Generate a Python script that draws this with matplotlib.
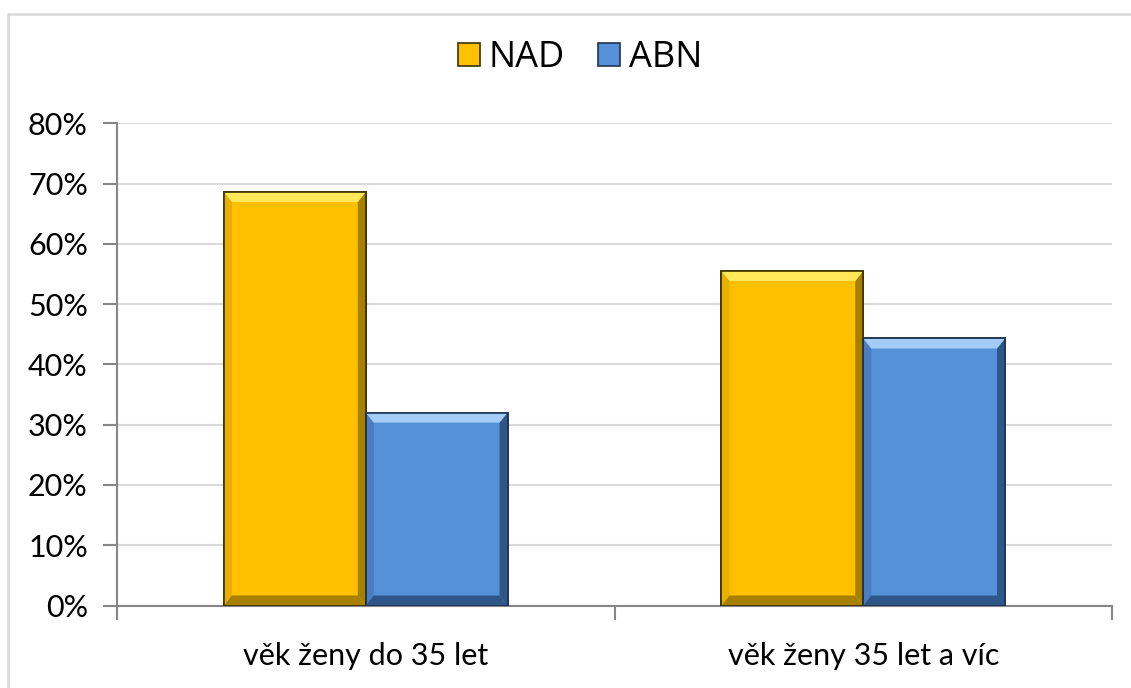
import matplotlib
matplotlib.use("Agg")
import matplotlib.pyplot as plt
import numpy as np
from matplotlib.patches import Polygon, Rectangle
from matplotlib.ticker import FuncFormatter, MultipleLocator

# data (percent)
categories = ["věk ženy do 35 let", "věk ženy 35 let a víc"]
series_names = ["NAD", "ABN"]
nad_values = [68.6, 55.5]
abn_values = [32.0, 44.3]

fills = ["#FFC000", "#5591D8"]
edges = ["#3B3200", "#1F3350"]
light = ["#FFE85A", "#A3CCF7"]
dark = ["#A88000", "#2E5689"]
side = ["#E8AE00", "#4A7EC0"]

W, H, DPI = 1131, 688, 100
fig = plt.figure(figsize=(W / DPI, H / DPI), dpi=DPI)
ax = fig.add_axes([117 / W, (H - 605.5) / H, 995 / W, (605.5 - 123.3) / H])

x = np.arange(len(categories))
width = 0.285
all_bars = []
for i, (vals, off) in enumerate([(nad_values, -width / 2), (abn_values, width / 2)]):
    bars = ax.bar(x + off, vals, width, color=fills[i], edgecolor=edges[i],
                  linewidth=1.2, zorder=3, label=series_names[i])
    all_bars.append((i, bars))

ax.set_xlim(-0.5, len(categories) - 0.5)
ax.set_ylim(0, 80)

# bevel effect drawn from each bar's own geometry
px_x = (len(categories)) / 995.0
px_y = 80 / (605.5 - 123.3)
bx, by = 8 * px_x, 10 * px_y
for i, bars in all_bars:
    for b in bars:
        x0, y0 = b.get_x(), b.get_y()
        x1, y1 = x0 + b.get_width(), y0 + b.get_height()
        top = [(x0, y1), (x1, y1), (x1 - bx, y1 - by), (x0 + bx, y1 - by)]
        left = [(x0, y0), (x0, y1), (x0 + bx, y1 - by), (x0 + bx, y0 + by)]
        right = [(x1, y0), (x1, y1), (x1 - bx, y1 - by), (x1 - bx, y0 + by)]
        bottom = [(x0, y0), (x1, y0), (x1 - bx, y0 + by), (x0 + bx, y0 + by)]
        for pts, c in [(left, side[i]), (right, dark[i]), (bottom, dark[i]), (top, light[i])]:
            ax.add_patch(Polygon(pts, closed=True, facecolor=c, edgecolor="none", zorder=4))
        ax.add_patch(Rectangle((x0, y0), b.get_width(), b.get_height(), fill=False,
                               edgecolor=edges[i], linewidth=1.2, zorder=5))

ax.yaxis.set_major_locator(MultipleLocator(10))
ax.yaxis.set_major_formatter(FuncFormatter(lambda v, _: f"{v:.0f}%"))
ax.grid(axis="y", color="#D9D9D9", linewidth=1.5, zorder=0)
ax.set_axisbelow(True)

ax.set_xticks(np.arange(len(categories) + 1) - 0.5, minor=False)
ax.set_xticklabels([])
ax.set_xticks(x, minor=True)
ax.set_xticklabels(categories, minor=True)
ax.tick_params(axis="x", which="major", length=10, width=1.5, color="#868686", direction="out")
ax.tick_params(axis="x", which="minor", length=0, pad=26, labelsize=22)
ax.tick_params(axis="y", length=10, width=1.5, color="#868686", direction="out",
               labelsize=22, pad=11)

for t in ax.get_xticklabels(minor=True) + ax.get_yticklabels():
    t.set_fontfamily("Lato")

for s in ["top", "right"]:
    ax.spines[s].set_visible(False)
for s in ["left", "bottom"]:
    ax.spines[s].set_color("#868686")
    ax.spines[s].set_linewidth(1.5)

leg = fig.legend(loc="center", bbox_to_anchor=(580 / W, 1 - 58 / H), ncol=2, frameon=False,
                 handlelength=0.62, handleheight=0.62, handletextpad=0.25, columnspacing=0.9,
                 prop={"family": "Open Sans", "size": 26})

# outer chart border (cut off at right and bottom like the source)
fig.add_artist(Rectangle((8 / W, -0.1), 1.2, 1.1 - 14 / H, transform=fig.transFigure,
                         fill=False, edgecolor="#D9D9D9", linewidth=1.8))

fig.savefig("out.png", dpi=DPI)
